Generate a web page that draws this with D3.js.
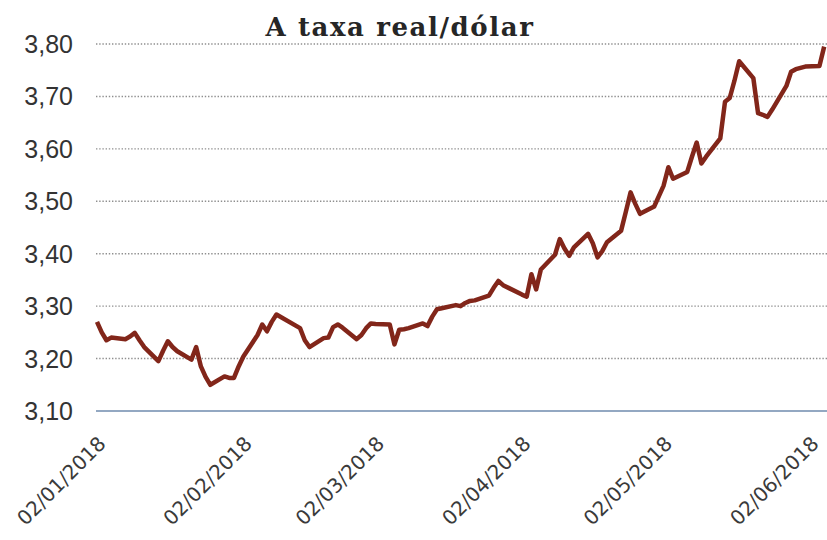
<!DOCTYPE html>
<html>
<head>
<meta charset="utf-8">
<script src="https://cdnjs.cloudflare.com/ajax/libs/d3/7.8.5/d3.min.js"></script>
<style>
  body { margin: 0; background: #fff; }
</style>
</head>
<body>
<script>
  var w = 827
  var h = 540

  // daily rates (business days)
  var dates = [
    "2018-01-02", "2018-01-03", "2018-01-04", "2018-01-05", "2018-01-08", "2018-01-09", "2018-01-10", "2018-01-11", "2018-01-12",
    "2018-01-15", "2018-01-16", "2018-01-17", "2018-01-18", "2018-01-19", "2018-01-22", "2018-01-23", "2018-01-24", "2018-01-25",
    "2018-01-26", "2018-01-29", "2018-01-30", "2018-01-31", "2018-02-01", "2018-02-02", "2018-02-05", "2018-02-06", "2018-02-07",
    "2018-02-08", "2018-02-09", "2018-02-14", "2018-02-15", "2018-02-16", "2018-02-19", "2018-02-20", "2018-02-21", "2018-02-22",
    "2018-02-23", "2018-02-26", "2018-02-27", "2018-02-28", "2018-03-01", "2018-03-02", "2018-03-05", "2018-03-06", "2018-03-07",
    "2018-03-08", "2018-03-09", "2018-03-12", "2018-03-13", "2018-03-14", "2018-03-15", "2018-03-16", "2018-03-19", "2018-03-20",
    "2018-03-21", "2018-03-22", "2018-03-23", "2018-03-26", "2018-03-27", "2018-03-28", "2018-03-29", "2018-04-02", "2018-04-03",
    "2018-04-04", "2018-04-05", "2018-04-06", "2018-04-09", "2018-04-10", "2018-04-11", "2018-04-12", "2018-04-13", "2018-04-16",
    "2018-04-17", "2018-04-18", "2018-04-19", "2018-04-20", "2018-04-23", "2018-04-24", "2018-04-25", "2018-04-26", "2018-04-27",
    "2018-04-30", "2018-05-02", "2018-05-03", "2018-05-04", "2018-05-07", "2018-05-08", "2018-05-09", "2018-05-10", "2018-05-11",
    "2018-05-14", "2018-05-15", "2018-05-16", "2018-05-17", "2018-05-18", "2018-05-21", "2018-05-22", "2018-05-23", "2018-05-24",
    "2018-05-25", "2018-05-28", "2018-05-29", "2018-05-30", "2018-06-01", "2018-06-04", "2018-06-05"
  ];

  var rates = [
    3.270, 3.250, 3.235, 3.240, 3.237, 3.242, 3.249, 3.235, 3.222,
    3.195, 3.215, 3.233, 3.222, 3.214, 3.198, 3.222, 3.185, 3.165,
    3.150, 3.166, 3.163, 3.163, 3.185, 3.204, 3.245, 3.265, 3.252,
    3.270, 3.284, 3.258, 3.235, 3.222, 3.239, 3.240, 3.260, 3.265,
    3.259, 3.237, 3.245, 3.258, 3.267, 3.266, 3.265, 3.227, 3.255,
    3.256, 3.258, 3.267, 3.262, 3.280, 3.294, 3.296, 3.302, 3.300,
    3.306, 3.310, 3.311, 3.320, 3.335, 3.348, 3.340, 3.322, 3.318,
    3.361, 3.332, 3.370, 3.398, 3.428, 3.410, 3.396, 3.412, 3.438,
    3.420, 3.393, 3.405, 3.422, 3.444, 3.480, 3.517, 3.495, 3.476,
    3.490, 3.530, 3.565, 3.543, 3.556, 3.585, 3.612, 3.572, 3.585,
    3.620, 3.690, 3.697, 3.730, 3.767, 3.735, 3.668, 3.665, 3.661,
    3.675, 3.720, 3.747, 3.752, 3.757, 3.758, 3.795
  ];

  var yTicks = [3.10, 3.20, 3.30, 3.40, 3.50, 3.60, 3.70, 3.80];
  var xTicks = ["2018-01-02", "2018-02-02", "2018-03-02", "2018-04-02", "2018-05-02", "2018-06-02"];

  var parse = d3.timeParse("%Y-%m-%d");
  var fmt = d3.timeFormat("%d/%m/%Y");
  var comma = function (v) { return v.toFixed(2).replace(".", ","); };

  var data = dates.map(function (d, i) {
      return { date: parse(d), value: rates[i] };
  });

  //SCALES

  var x = d3.scaleTime()
      .domain([parse("2018-01-02"), parse("2018-06-02")])
      .range([97, 810]);

  var y = d3.scaleLinear()
      .domain([3.10, 3.80])
      .range([411, 44]);

  var svg = d3.select("body")
      .append("svg")
      .attr("width", w)
      .attr("height", h);

  //TITLE

  svg.append("text")
      .attr("x", 400)
      .attr("y", 36)
      .attr("text-anchor", "middle")
      .attr("font-family", "'DejaVu Serif', 'Liberation Serif', serif")
      .attr("font-weight", "bold")
      .attr("font-size", "26px")
      .attr("letter-spacing", "1.6px")
      .attr("fill", "#262626")
      .text("A taxa real/dólar");

  //GRID

  svg.append("g")
      .selectAll("line")
      .data(yTicks.slice(1))
      .enter()
      .append("line")
      .attr("x1", 96)
      .attr("x2", w)
      .attr("y1", function (d) { return y(d); })
      .attr("y2", function (d) { return y(d); })
      .attr("stroke", "#8f8f8f")
      .attr("stroke-width", 1.4)
      .attr("stroke-dasharray", "1.4,1.8");

  // bottom axis line
  svg.append("line")
      .attr("x1", 96)
      .attr("x2", w)
      .attr("y1", y(3.10))
      .attr("y2", y(3.10))
      .attr("stroke", "#93a8c2")
      .attr("stroke-width", 2);

  //Y LABELS

  svg.append("g")
      .selectAll("text")
      .data(yTicks)
      .enter()
      .append("text")
      .attr("x", 73)
      .attr("y", function (d) { return y(d); })
      .attr("dy", "0.36em")
      .attr("text-anchor", "end")
      .attr("font-family", "'Liberation Sans', Arial, sans-serif")
      .attr("font-size", "25px")
      .attr("fill", "#333")
      .text(function (d) { return comma(d); });

  //X LABELS

  svg.append("g")
      .selectAll("text")
      .data(xTicks)
      .enter()
      .append("text")
      .attr("transform", function (d) {
          return "translate(" + (x(parse(d)) + 10) + "," + 445 + ") rotate(-45)";
      })
      .attr("text-anchor", "end")
      .attr("font-family", "'DejaVu Sans', Verdana, sans-serif")
      .attr("font-size", "20px")
      .attr("fill", "#3a3a3a")
      .text(function (d) { return fmt(parse(d)); });

  //LINE

  var line = d3.line()
      .x(function (d) { return x(d.date); })
      .y(function (d) { return y(d.value); });

  svg.append("path")
      .datum(data)
      .attr("d", line)
      .attr("fill", "none")
      .attr("stroke", "#82261a")
      .attr("stroke-width", 4.5)
      .attr("stroke-linejoin", "round");
</script>
</body>
</html>
